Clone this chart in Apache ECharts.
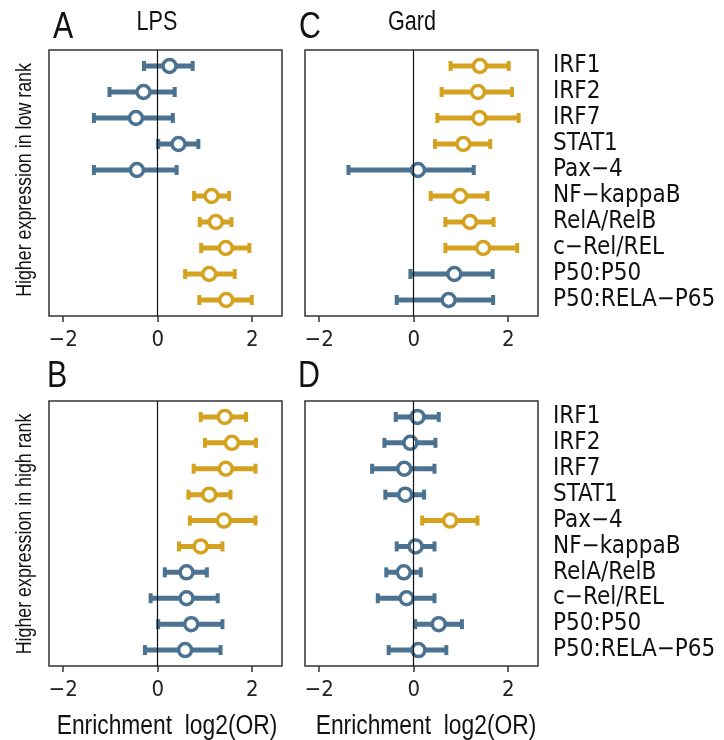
<!DOCTYPE html>
<html>
<head>
<meta charset="utf-8">
<script src="https://cdn.jsdelivr.net/npm/echarts@6/dist/echarts.min.js"></script>
<style>
  html, body { margin: 0; padding: 0; background: #fff; }
  #chart { width: 724px; height: 740px; }
</style>
</head>
<body>
<div id="chart"></div>
<script>
var tfs = ['IRF1', 'IRF2', 'IRF7', 'STAT1', 'Pax\u22124', 'NF\u2212kappaB', 'RelA/RelB', 'c\u2212Rel/REL', 'P50:P50', 'P50:RELA\u2212P65'];
var ticks = [-2, 0, 2];

// A: LPS, higher expression in low rank
var lpsLowMid = [0.25, -0.30, -0.46, 0.44, -0.44, 1.14, 1.23, 1.44, 1.09, 1.45];
var lpsLowLo  = [-0.29, -1.02, -1.35, 0.01, -1.35, 0.77, 0.89, 0.92, 0.58, 0.88];
var lpsLowHi  = [0.74, 0.36, 0.32, 0.86, 0.40, 1.51, 1.56, 1.94, 1.63, 1.99];
var lpsLowUp  = [0, 0, 0, 0, 0, 1, 1, 1, 1, 1];

// B: LPS, higher expression in high rank
var lpsHighMid = [1.42, 1.57, 1.44, 1.09, 1.40, 0.91, 0.61, 0.61, 0.71, 0.58];
var lpsHighLo  = [0.91, 1.00, 0.76, 0.65, 0.68, 0.45, 0.15, -0.15, 0.01, -0.27];
var lpsHighHi  = [1.87, 2.08, 2.07, 1.54, 2.07, 1.37, 1.04, 1.27, 1.37, 1.33];
var lpsHighUp  = [1, 1, 1, 1, 1, 1, 0, 0, 0, 0];

// C: Gard, higher expression in low rank
var gardLowMid = [1.40, 1.36, 1.39, 1.05, 0.09, 0.98, 1.19, 1.47, 0.86, 0.74];
var gardLowLo  = [0.78, 0.59, 0.50, 0.45, -1.38, 0.36, 0.67, 0.67, -0.07, -0.36];
var gardLowHi  = [2.01, 2.08, 2.22, 1.62, 1.27, 1.56, 1.69, 2.19, 1.67, 1.68];
var gardLowUp  = [1, 1, 1, 1, 0, 1, 1, 1, 0, 0];

// D: Gard, higher expression in high rank
var gardHighMid = [0.08, -0.07, -0.20, -0.18, 0.77, 0.04, -0.21, -0.15, 0.53, 0.10];
var gardHighLo  = [-0.38, -0.62, -0.88, -0.60, 0.18, -0.36, -0.58, -0.76, 0.03, -0.53];
var gardHighHi  = [0.53, 0.46, 0.44, 0.22, 1.35, 0.44, 0.15, 0.44, 1.02, 0.69];
var gardHighUp  = [0, 0, 0, 0, 1, 0, 0, 0, 0, 0];

var BLUE = '#4b7290';
var GOLD = '#d4a21f';
var FONT = "'DejaVu Sans Condensed', 'Liberation Sans', sans-serif";
var TFONT = "'Liberation Sans', Arial, sans-serif";

var chart = echarts.init(document.getElementById('chart'));

function rows(mid, lo, hi, up) {
    return mid.map(function (m, i) {
        return [i + 1, lo[i], m, hi[i], up[i]];
    });
}

// error bar + end caps + open circle
function renderForest(params, api) {
    var y = api.value(0);
    var a = api.coord([api.value(1), y]);
    var m = api.coord([api.value(2), y]);
    var b = api.coord([api.value(3), y]);
    var col = api.value(4) ? GOLD : BLUE;
    return {
        type: 'group',
        children: [
            { type: 'line', shape: { x1: a[0], y1: a[1], x2: b[0], y2: b[1] }, style: { stroke: col, lineWidth: 5 } },
            { type: 'rect', shape: { x: a[0] - 2, y: a[1] - 5, width: 4, height: 10 }, style: { fill: col } },
            { type: 'rect', shape: { x: b[0] - 2, y: b[1] - 5, width: 4, height: 10 }, style: { fill: col } },
            { type: 'circle', shape: { cx: m[0], cy: m[1], r: 6.5 }, style: { fill: '#fff', stroke: col, lineWidth: 3.5 } }
        ]
    };
}

var panels = [
    { left: 49, top: 50, height: 266, data: rows(lpsLowMid, lpsLowLo, lpsLowHi, lpsLowUp), names: false },
    { left: 49, top: 401, height: 265, data: rows(lpsHighMid, lpsHighLo, lpsHighHi, lpsHighUp), names: false },
    { left: 305, top: 50, height: 266, data: rows(gardLowMid, gardLowLo, gardLowHi, gardLowUp), names: true },
    { left: 305, top: 401, height: 265, data: rows(gardHighMid, gardHighLo, gardHighHi, gardHighUp), names: true }
];

var grid = [], xAxis = [], yAxis = [], series = [];
panels.forEach(function (p, i) {
    grid.push({
        left: p.left, top: p.top, width: 233, height: p.height,
        show: true, borderColor: '#333', borderWidth: 1.5, backgroundColor: 'transparent'
    });
    xAxis.push({
        type: 'value', gridIndex: i, min: -2.3, max: 2.63,
        axisLine: { show: false },
        splitLine: { show: false },
        axisTick: { show: true, length: 6, customValues: ticks, lineStyle: { color: '#333', width: 1.5 } },
        axisLabel: {
            customValues: ticks, margin: 13, color: '#222', fontSize: 22, fontFamily: FONT,
            formatter: function (v) { return v < 0 ? '\u2212' + (-v) : String(v); }
        }
    });
    yAxis.push({
        type: 'value', gridIndex: i, min: 0.385, max: 10.615, inverse: true,
        position: 'right',
        axisLine: { show: false }, axisTick: { show: false }, splitLine: { show: false },
        axisLabel: {
            show: p.names, customValues: [1, 2, 3, 4, 5, 6, 7, 8, 9, 10], margin: 15,
            color: '#111', fontSize: 24, fontFamily: FONT, align: 'left',
            formatter: function (v) { return tfs[Math.round(v) - 1]; }
        }
    });
    series.push({
        type: 'custom', xAxisIndex: i, yAxisIndex: i,
        renderItem: renderForest,
        encode: { x: [1, 2, 3], y: 0 },
        data: p.data,
        z: 3,
        markLine: {
            silent: true, symbol: 'none', label: { show: false },
            lineStyle: { color: '#111', width: 1.2, type: 'solid' },
            data: [{ xAxis: 0 }]
        }
    });
});

// narrow-looking titles: Liberation Sans squeezed horizontally
function txt(x, y, s, size, sx, rot) {
    return {
        type: 'text', x: x, y: y, scaleX: sx, rotation: rot || 0,
        style: { text: s, fontSize: size, fontFamily: TFONT, fill: '#111', align: 'center', verticalAlign: 'middle' }
    };
}

var graphic = [
    txt(63, 28, 'A', 37, 0.82), txt(157, 23, 'LPS', 27, 0.8),
    txt(310, 28, 'C', 37, 0.82), txt(412, 23, 'Gard', 27, 0.8),
    txt(57, 377, 'B', 37, 0.82), txt(309, 377, 'D', 37, 0.82),
    txt(25, 180, 'Higher expression in low rank', 22, 0.81, Math.PI / 2),
    txt(25, 534, 'Higher expression in high rank', 22, 0.81, Math.PI / 2),
    txt(167, 727, 'Enrichment  log2(OR)', 27, 0.845),
    txt(426, 727, 'Enrichment  log2(OR)', 27, 0.845)
];

chart.setOption({
    animation: false,
    grid: grid,
    xAxis: xAxis,
    yAxis: yAxis,
    series: series,
    graphic: graphic
});
</script>
</body>
</html>
